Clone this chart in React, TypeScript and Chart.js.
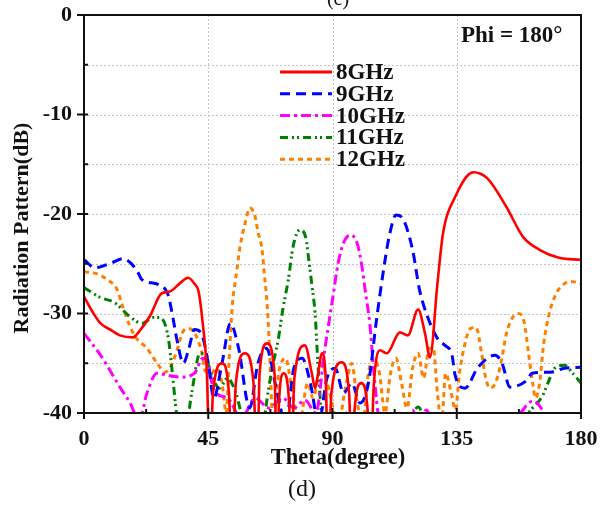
import React, { useEffect, useRef } from "react";
import { Chart, registerables } from "chart.js";

Chart.register(...registerables);

// ---------- DATA ----------
const seriesNames = ["8GHz", "9GHz", "10GHz", "11GHz", "12GHz"];

const theta8 = [0, 3, 6, 10, 13, 17.7, 20, 24, 28, 31, 35, 37.7, 40, 41.5, 43, 44.5, 45.6, 46.7, 50, 52.5, 53.6, 55, 58.3, 61.4, 62.7, 63.6, 66.3, 69, 69.9, 70.6, 72.3, 74.3, 75, 76.2, 80, 82.5, 83.7, 84.5, 86.2, 87.6, 88.4, 89.6, 93.3, 96, 97.1, 97.9, 100.4, 102.8, 103.6, 105, 107.2, 109.7, 114.4, 117.3, 121, 123.5, 125.3, 128, 130, 134.4, 141, 146, 153, 159, 165, 172, 180];
const db8 = [-28.3, -29.8, -31, -31.7, -32.2, -32.4, -31.8, -30.2, -28, -27.8, -26.9, -26.4, -27, -27.8, -31, -36, -46, -38, -35, -38, -46, -37, -34, -37, -46, -36, -33, -36, -46, -39, -36, -39, -46, -36.5, -33.2, -36, -37.5, -36.5, -34, -37, -46, -38, -34.9, -38, -46, -40, -37, -40, -46, -37, -33.7, -34, -31.9, -32.2, -29.6, -32, -34.4, -27, -22, -18.3, -15.8, -16.4, -19.3, -22.3, -23.6, -24.4, -24.6];

const theta9 = [0, 4, 10, 14, 19, 21, 27, 30.4, 32.2, 33.7, 36, 38, 40, 42.5, 45, 47, 50, 53, 56, 60, 63, 66, 70, 73, 76, 79, 82, 85, 88, 91, 94, 97, 100, 103, 106, 108.5, 110.5, 113, 115, 119, 121.5, 124, 128, 130.7, 133.3, 134.4, 138, 142.7, 148.9, 151.4, 154.3, 160.4, 162.3, 168.8, 174, 180];
const db9 = [-24.6, -25.4, -24.9, -24.5, -25.6, -26.6, -27.1, -28.1, -30.4, -32.7, -35, -33.5, -31.6, -32, -35, -38.5, -35, -31, -33.5, -39.5, -35, -33.5, -38, -41, -35.5, -34.5, -37, -41, -36.5, -35.5, -38, -37, -39, -37, -30.5, -25.6, -22.3, -20.1, -20.3, -23.6, -27.6, -30, -32.5, -33.2, -34.2, -36.2, -37.5, -35.4, -34.2, -35, -37.4, -36.7, -36, -35.9, -35.5, -35.4];

const theta10 = [0, 6, 10, 13, 16.7, 20, 22.8, 26.4, 30, 35, 40, 43, 45, 47, 52, 57, 62, 67, 72, 76, 80, 84, 87, 90, 92, 94, 96.5, 99, 100.5, 102, 103.5, 105, 107, 112, 119, 121, 124, 127, 140, 158, 162.5, 166.5, 170, 180];
const db10 = [-32, -34.2, -36, -37.4, -39, -40.8, -38, -36, -36.2, -36.4, -36, -34.5, -35, -37.7, -38.5, -40.5, -38.5, -39.5, -38.5, -39.5, -38.7, -40, -34, -28.6, -25, -22.9, -22.1, -23, -25, -28, -31, -36, -41, -44, -39.7, -41, -39.7, -42, -45, -40, -38.8, -40, -43, -45];

const theta11 = [0, 6, 11, 17, 21, 25, 27.5, 30.5, 32, 33.5, 36, 39, 42, 44, 46, 49, 52, 55, 58, 62, 65, 66.6, 68, 70.3, 72, 74, 75.7, 78.2, 80.5, 81.1, 82.6, 83.7, 84.7, 86, 88, 91, 95, 98, 105, 116, 121, 126, 150, 157, 161, 166, 168, 170.5, 174, 177, 180];
const db11 = [-27.4, -28.4, -28.9, -30.4, -31, -30.4, -30.4, -32.4, -36, -40, -43, -38, -34, -34.3, -36, -37.5, -36.5, -38, -41, -42, -41, -38, -35.7, -32.7, -29.6, -26.6, -23.3, -21.6, -22.6, -23.9, -27.3, -30, -35, -40, -43, -43, -40, -41, -44, -42, -39.4, -43, -45, -42, -40, -38.3, -37, -35.5, -35.2, -36, -37];

const theta12 = [0, 4.5, 8.5, 12, 14, 16.5, 19, 22.5, 26.5, 29.3, 31, 33.7, 35.5, 37.3, 39.5, 41.3, 42.7, 43.8, 46, 48, 50, 51.5, 52.5, 53.6, 55.4, 56.5, 58.3, 60.1, 62, 63, 64.5, 65.3, 66.3, 67, 68.5, 70.5, 73, 75.5, 78, 81, 83, 86, 89, 92, 95, 97, 99, 101, 103, 105, 107, 109, 111, 113, 115, 117, 119, 121, 123, 125, 126.5, 128, 129.5, 131, 133, 134.5, 136, 138, 140, 142, 144, 145.5, 147, 149, 151, 153, 155, 157.5, 159.5, 161, 162.5, 163.5, 165, 166.5, 168.5, 171, 174, 177, 180];
const db12 = [-25.8, -26, -26.6, -27.6, -29.3, -31.2, -32.5, -33.4, -35, -35.9, -35.5, -33.7, -32, -31.5, -31.7, -32.7, -34, -35.7, -36, -35.5, -37, -40, -35, -29.6, -25.6, -23.3, -21, -19.4, -20.3, -21.8, -23.6, -26, -29, -32.4, -41, -36, -34.5, -38, -41, -37, -38.5, -35, -38, -41, -37, -35, -39, -41, -36, -34.5, -36, -40, -36, -34.5, -37, -39.5, -35.5, -34, -36.5, -33.5, -33.5, -38, -41, -36, -38, -39.7, -36, -33, -31.5, -31.4, -34, -36.5, -37.5, -37, -35, -32, -30.5, -30, -31, -34, -37, -38.5, -37, -33, -30, -28, -27, -26.8, -27];

const xTickValues = [0, 45, 90, 135, 180];
const yTickValues = [0, -10, -20, -30, -40];
const xGridValues = [45, 90, 135];
const yGridValues = [-5, -10, -15, -20, -25, -30, -35];
const xMinorTicks = [22.5, 67.5, 112.5, 157.5];
const yMinorTicks = [-5, -15, -25, -35];

const xTitle = "Theta(degree)";
const yTitle = "Radiation Pattern(dB)";
const phiLabel = "Phi = 180°";
const caption = "(d)";
const topCutLabel = "(c)";

// ---------- STYLES ----------
const colors = ["#ff0000", "#0000ff", "#ff00ff", "#008000", "#ff8000"];
const dashes: number[][] = [[], [10, 6], [10, 4, 3, 4], [8, 4, 2, 3, 2, 4], [5, 4]];
const widths = [2.6, 3, 3, 3, 3];

const SERIF = '"Liberation Serif", "Times New Roman", serif';

const thetas = [theta8, theta9, theta10, theta11, theta12];
const dbs = [db8, db9, db10, db11, db12];

const decorPlugin = {
  id: "decor",
  beforeDatasetsDraw(chart: any) {
    const { ctx, chartArea, scales } = chart;
    const xs = scales.x;
    const ys = scales.y;
    ctx.save();
    ctx.strokeStyle = "#c4c4c4";
    ctx.lineWidth = 1;
    ctx.setLineDash([2, 2]);
    for (const v of xGridValues) {
      const px = Math.round(xs.getPixelForValue(v)) + 0.5;
      ctx.beginPath();
      ctx.moveTo(px, chartArea.top);
      ctx.lineTo(px, chartArea.bottom);
      ctx.stroke();
    }
    for (const v of yGridValues) {
      const py = Math.round(ys.getPixelForValue(v)) + 0.5;
      ctx.beginPath();
      ctx.moveTo(chartArea.left, py);
      ctx.lineTo(chartArea.right, py);
      ctx.stroke();
    }
    ctx.restore();
  },
  afterDatasetsDraw(chart: any) {
    const { ctx, chartArea, scales } = chart;
    const xs = scales.x;
    const ys = scales.y;
    ctx.save();
    ctx.setLineDash([]);
    ctx.strokeStyle = "#111";
    ctx.lineWidth = 2;
    ctx.strokeRect(chartArea.left, chartArea.top, chartArea.right - chartArea.left, chartArea.bottom - chartArea.top);
    for (const v of xTickValues) {
      const px = xs.getPixelForValue(v);
      ctx.beginPath();
      ctx.moveTo(px, chartArea.bottom - 5);
      ctx.lineTo(px, chartArea.bottom + 6);
      ctx.stroke();
    }
    for (const v of xMinorTicks) {
      const px = xs.getPixelForValue(v);
      ctx.beginPath();
      ctx.moveTo(px, chartArea.bottom);
      ctx.lineTo(px, chartArea.bottom - 4);
      ctx.stroke();
    }
    for (const v of yTickValues) {
      const py = ys.getPixelForValue(v);
      ctx.beginPath();
      ctx.moveTo(chartArea.left - 7, py);
      ctx.lineTo(chartArea.left + 4, py);
      ctx.stroke();
    }
    for (const v of yMinorTicks) {
      const py = ys.getPixelForValue(v);
      ctx.beginPath();
      ctx.moveTo(chartArea.left, py);
      ctx.lineTo(chartArea.left + 4, py);
      ctx.stroke();
    }
    // legend
    const legX0 = 280;
    const legX1 = 332;
    const legY0 = 72;
    const legStep = 21.8;
    ctx.font = `bold 23px ${SERIF}`;
    ctx.textBaseline = "middle";
    ctx.textAlign = "left";
    seriesNames.forEach((name, i) => {
      const y = legY0 + i * legStep;
      ctx.strokeStyle = colors[i];
      ctx.lineWidth = 3;
      ctx.setLineDash(dashes[i]);
      ctx.beginPath();
      ctx.moveTo(legX0, y);
      ctx.lineTo(legX1, y);
      ctx.stroke();
      ctx.setLineDash([]);
      ctx.fillStyle = "#111";
      ctx.fillText(name, 336, y + 1);
    });
    ctx.font = `bold 23px ${SERIF}`;
    ctx.fillStyle = "#111";
    ctx.fillText(phiLabel, 461, 36);
    ctx.font = `bold 22.5px ${SERIF}`;
    ctx.textAlign = "center";
    ctx.fillText(xTitle, 338, 458);
    ctx.save();
    ctx.translate(22, (chartArea.top + chartArea.bottom) / 2 + 14);
    ctx.rotate(-Math.PI / 2);
    ctx.font = `bold 22px ${SERIF}`;
    ctx.fillText(yTitle, 0, 0);
    ctx.restore();
    ctx.font = `24px ${SERIF}`;
    ctx.fillText(caption, 302, 490);
    ctx.textBaseline = "alphabetic";
    ctx.font = `20px ${SERIF}`;
    ctx.fillText(topCutLabel, 338, 5);
    ctx.restore();
  },
};

export default function App() {
  const canvasRef = useRef<HTMLCanvasElement | null>(null);

  useEffect(() => {
    const canvas = canvasRef.current;
    if (!canvas) return;
    const datasets = seriesNames.map((name, i) => ({
      label: name,
      data: thetas[i].map((t, k) => ({ x: t, y: dbs[i][k] })),
      borderColor: colors[i],
      backgroundColor: colors[i],
      borderWidth: widths[i],
      borderDash: dashes[i],
      pointRadius: 0,
      fill: false,
      cubicInterpolationMode: "monotone" as const,
      clip: 0,
    }));
    const chart = new Chart(canvas, {
      type: "line",
      data: { datasets },
      plugins: [decorPlugin],
      options: {
        responsive: false,
        animation: false,
        events: [],
        layout: { padding: { left: 0, top: 15, right: 19, bottom: 0 } },
        plugins: {
          legend: { display: false },
          title: { display: false },
          tooltip: { enabled: false },
        },
        scales: {
          x: {
            type: "linear",
            min: 0,
            max: 180,
            afterBuildTicks: (s: any) => {
              s.ticks = xTickValues.map((v) => ({ value: v }));
            },
            afterFit: (s: any) => {
              s.height = 92;
              s.paddingLeft = 0;
              s.paddingRight = 0;
              s.paddingTop = 0;
              s.paddingBottom = 0;
            },
            grid: { display: false, drawTicks: false },
            border: { display: false },
            ticks: {
              padding: 13,
              color: "#111",
              font: { family: SERIF, size: 22, weight: "bold" },
              maxRotation: 0,
              callback: (v: any) => String(v),
            },
          },
          y: {
            type: "linear",
            min: -40,
            max: 0,
            afterBuildTicks: (s: any) => {
              s.ticks = yTickValues.map((v) => ({ value: v }));
            },
            afterFit: (s: any) => {
              s.width = 84;
              s.paddingLeft = 0;
              s.paddingRight = 0;
              s.paddingTop = 0;
              s.paddingBottom = 0;
            },
            grid: { display: false, drawTicks: false },
            border: { display: false },
            ticks: {
              padding: 12,
              color: "#111",
              font: { family: SERIF, size: 22, weight: "bold" },
              callback: (v: any) => String(v),
            },
          },
        },
      },
    });
    return () => chart.destroy();
  }, []);

  return (
    <div style={{ position: "absolute", left: 0, top: 0, width: 600, height: 505, background: "#fff" }}>
      <canvas ref={canvasRef} width={600} height={505} style={{ width: 600, height: 505, display: "block" }} />
    </div>
  );
}
